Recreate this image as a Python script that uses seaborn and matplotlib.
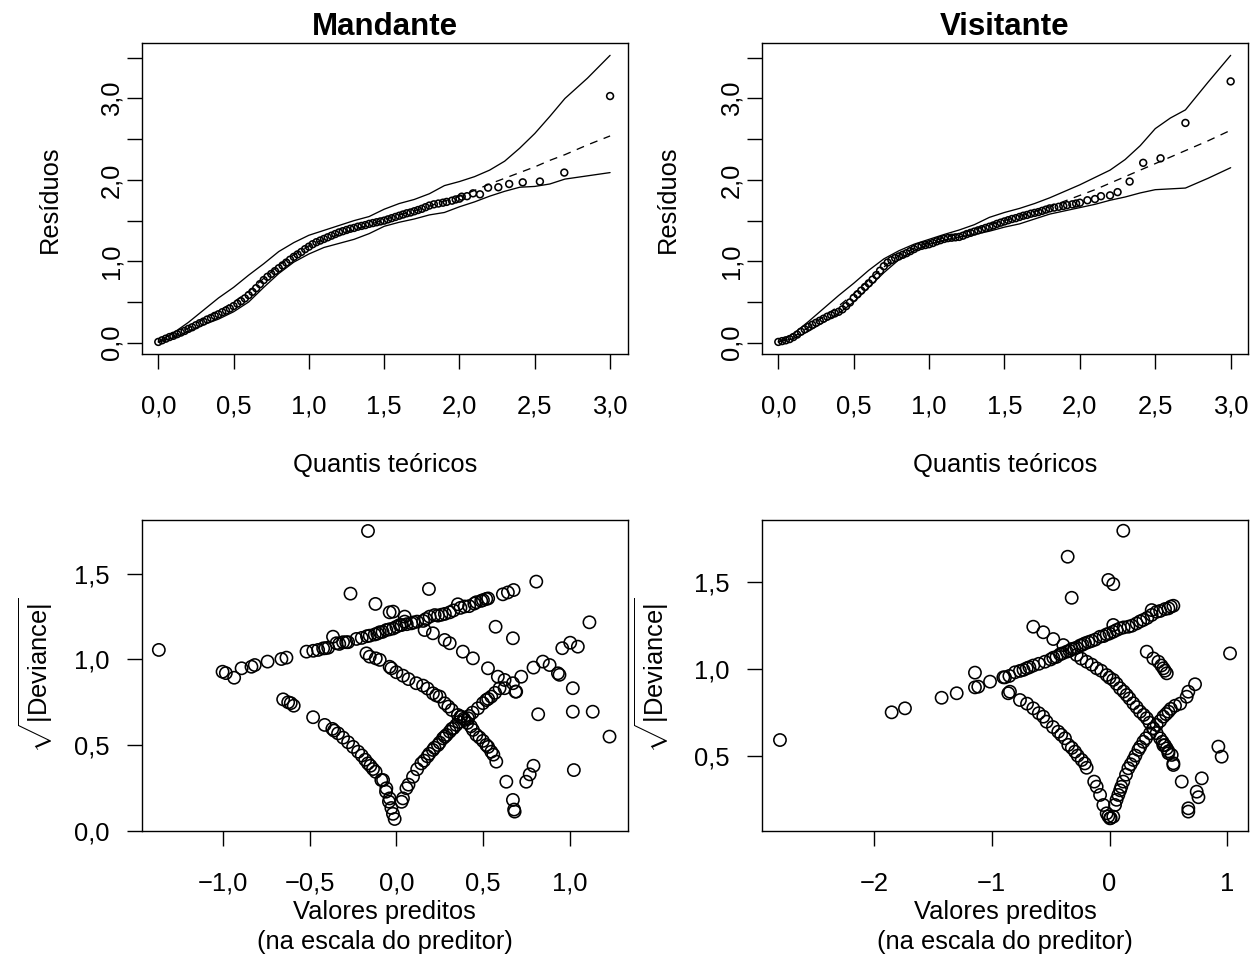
import matplotlib
matplotlib.use("Agg")
import matplotlib.pyplot as plt
import numpy as np
import pandas as pd
import seaborn as sns

# ---------------- DATA ----------------
# Half-normal plot, Mandante: theoretical quantiles / sorted residuals
mand_band_q = [0.000, 0.025, 0.050, 0.075, 0.100, 0.125, 0.150, 0.175, 0.200, 0.225,
               0.250, 0.275, 0.300, 0.325, 0.350, 0.375, 0.400, 0.425, 0.450, 0.475,
               0.500, 0.525, 0.550, 0.575, 0.600, 0.625, 0.650, 0.675, 0.700, 0.725,
               0.750, 0.775, 0.800, 0.825, 0.850, 0.875, 0.900, 0.925, 0.950, 0.975,
               1.000, 1.025, 1.050, 1.075, 1.100, 1.125, 1.150, 1.175, 1.200, 1.225,
               1.250, 1.275, 1.300, 1.325, 1.350, 1.375, 1.400, 1.425, 1.450, 1.475,
               1.500, 1.525, 1.550, 1.575, 1.600, 1.625, 1.650, 1.675, 1.700, 1.725,
               1.750, 1.775, 1.800, 1.830, 1.860, 1.890, 1.915, 1.950, 1.975, 2.000]
mand_band_res = [0.010, 0.030, 0.050, 0.070, 0.085, 0.105, 0.125, 0.145, 0.170, 0.190,
                 0.215, 0.240, 0.260, 0.285, 0.305, 0.330, 0.350, 0.375, 0.395, 0.420,
                 0.450, 0.480, 0.510, 0.545, 0.585, 0.625, 0.670, 0.720, 0.770, 0.810,
                 0.845, 0.880, 0.915, 0.950, 0.985, 1.020, 1.055, 1.085, 1.115, 1.150,
                 1.180, 1.210, 1.235, 1.255, 1.275, 1.295, 1.315, 1.335, 1.355, 1.370,
                 1.385, 1.400, 1.410, 1.425, 1.435, 1.445, 1.460, 1.470, 1.480, 1.490,
                 1.500, 1.515, 1.530, 1.545, 1.560, 1.575, 1.590, 1.600, 1.615, 1.630,
                 1.645, 1.665, 1.685, 1.700, 1.710, 1.720, 1.730, 1.745, 1.760, 1.770]
mand_tail_q = [2.015, 2.050, 2.090, 2.136, 2.190, 2.258, 2.330, 2.420, 2.534, 2.696, 3.000]
mand_tail_res = [1.794, 1.800, 1.835, 1.823, 1.905, 1.910, 1.950, 1.970, 1.980, 2.090, 3.030]

env_q = [0.0, 0.1, 0.2, 0.3, 0.4, 0.5, 0.6, 0.7, 0.8, 0.9, 1.0, 1.1, 1.2, 1.3, 1.4,
         1.5, 1.6, 1.7, 1.8, 1.9, 2.0, 2.1, 2.2, 2.3, 2.4, 2.5, 2.6, 2.7, 2.85, 3.0]
mand_env_low = [0.01, 0.06, 0.14, 0.22, 0.29, 0.38, 0.50, 0.68, 0.85, 0.99, 1.09, 1.17,
                1.22, 1.27, 1.34, 1.43, 1.48, 1.52, 1.57, 1.60, 1.67, 1.73, 1.80, 1.86,
                1.91, 1.92, 1.95, 2.01, 2.05, 2.09]
mand_env_med = [0.01, 0.08, 0.18, 0.29, 0.39, 0.50, 0.63, 0.79, 0.95, 1.08, 1.19, 1.27,
                1.33, 1.39, 1.45, 1.51, 1.57, 1.62, 1.68, 1.74, 1.80, 1.87, 1.95, 2.02,
                2.09, 2.16, 2.24, 2.31, 2.43, 2.54]
mand_env_up = [0.01, 0.12, 0.25, 0.40, 0.55, 0.68, 0.83, 0.97, 1.12, 1.23, 1.32, 1.38,
               1.44, 1.50, 1.55, 1.64, 1.71, 1.76, 1.83, 1.93, 1.98, 2.04, 2.12, 2.23,
               2.39, 2.57, 2.78, 3.00, 3.25, 3.53]

# Half-normal plot, Visitante
vis_band_q = mand_band_q
vis_band_res = [0.010, 0.020, 0.030, 0.045, 0.070, 0.100, 0.135, 0.165, 0.195, 0.220,
                0.245, 0.270, 0.295, 0.320, 0.340, 0.360, 0.380, 0.410, 0.450, 0.495,
                0.550, 0.595, 0.640, 0.685, 0.730, 0.775, 0.830, 0.885, 0.940, 0.985,
                1.015, 1.040, 1.060, 1.080, 1.100, 1.125, 1.150, 1.175, 1.190, 1.200,
                1.210, 1.225, 1.245, 1.260, 1.275, 1.285, 1.290, 1.295, 1.300, 1.315,
                1.335, 1.350, 1.365, 1.380, 1.395, 1.410, 1.425, 1.440, 1.460, 1.475,
                1.490, 1.505, 1.520, 1.530, 1.545, 1.560, 1.570, 1.585, 1.595, 1.605,
                1.620, 1.635, 1.650, 1.660, 1.670, 1.680, 1.690, 1.700, 1.710, 1.720]
vis_tail_q = [2.050, 2.100, 2.140, 2.200, 2.250, 2.330, 2.420, 2.535, 2.700, 3.000]
vis_tail_res = [1.750, 1.765, 1.800, 1.810, 1.850, 1.980, 2.210, 2.265, 2.700, 3.210]

vis_env_low = [0.01, 0.05, 0.14, 0.25, 0.36, 0.50, 0.68, 0.86, 1.02, 1.13, 1.21, 1.26,
               1.30, 1.33, 1.37, 1.42, 1.46, 1.52, 1.58, 1.62, 1.66, 1.70, 1.75, 1.79,
               1.84, 1.88, 1.89, 1.90, 2.02, 2.15]
vis_env_med = [0.01, 0.07, 0.19, 0.32, 0.45, 0.60, 0.77, 0.93, 1.07, 1.16, 1.23, 1.29,
               1.34, 1.39, 1.45, 1.50, 1.55, 1.61, 1.67, 1.74, 1.81, 1.88, 1.96, 2.04,
               2.12, 2.20, 2.28, 2.36, 2.48, 2.61]
vis_env_up = [0.01, 0.11, 0.26, 0.42, 0.58, 0.73, 0.89, 1.03, 1.13, 1.21, 1.27, 1.33,
              1.385, 1.45, 1.54, 1.60, 1.65, 1.71, 1.78, 1.86, 1.94, 2.03, 2.12, 2.25,
              2.42, 2.63, 2.76, 2.86, 3.20, 3.53]

# sqrt|deviance| vs linear predictor, Mandante (predicted, sqrt|dev|)
mand_isolated = [(-1.372, 1.055), (-0.164, 1.748), (-0.265, 1.383), (-0.121, 1.323),
                 (-0.039, 1.274), (0.188, 1.410), (-0.019, 1.278)]
mand_goal0 = [(-1.004, 0.928), (-0.985, 0.920), (-0.937, 0.893), (-0.894, 0.948),
              (-0.837, 0.957), (-0.818, 0.967), (-0.744, 0.987), (-0.664, 1.002),
              (-0.635, 1.010), (-0.519, 1.045), (-0.480, 1.050), (-0.452, 1.055),
              (-0.423, 1.064), (-0.410, 1.065), (-0.394, 1.068), (-0.366, 1.132),
              (-0.346, 1.094), (-0.330, 1.090), (-0.308, 1.100), (-0.290, 1.100),
              (-0.279, 1.100), (-0.231, 1.119), (-0.200, 1.125), (-0.170, 1.135),
              (-0.154, 1.138), (-0.125, 1.145), (-0.110, 1.150), (-0.096, 1.158),
              (-0.080, 1.160), (-0.058, 1.171), (-0.040, 1.175), (-0.019, 1.180),
              (0.000, 1.190), (0.019, 1.200), (0.030, 1.200), (0.048, 1.220),
              (0.060, 1.205), (0.086, 1.210), (0.100, 1.215), (0.120, 1.220),
              (0.154, 1.224), (0.170, 1.235), (0.192, 1.249), (0.221, 1.258),
              (0.240, 1.255), (0.260, 1.260), (0.280, 1.265), (0.308, 1.274),
              (0.330, 1.285), (0.355, 1.321), (0.370, 1.300), (0.394, 1.308),
              (0.420, 1.310), (0.450, 1.325), (0.462, 1.333), (0.490, 1.341),
              (0.500, 1.345), (0.519, 1.352), (0.530, 1.355), (0.615, 1.379),
              (0.644, 1.390), (0.677, 1.404), (0.808, 1.453)]
mand_goal3 = [(0.048, 1.249), (0.163, 1.171), (0.211, 1.152), (0.279, 1.113),
              (0.308, 1.094), (0.384, 1.045), (0.442, 1.006), (0.529, 0.948),
              (0.586, 0.899), (0.625, 0.880), (0.673, 0.861), (0.692, 0.812),
              (0.573, 1.190), (0.673, 1.123)]
mand_goal2 = [(-0.173, 1.035), (-0.154, 1.016), (-0.119, 1.006), (-0.096, 0.997),
              (-0.039, 0.957), (-0.029, 0.948), (0.000, 0.925), (0.038, 0.905),
              (0.070, 0.885), (0.115, 0.861), (0.154, 0.847), (0.180, 0.830),
              (0.211, 0.802), (0.230, 0.790), (0.250, 0.783), (0.279, 0.744),
              (0.300, 0.725), (0.320, 0.705), (0.355, 0.676), (0.370, 0.665),
              (0.394, 0.647), (0.410, 0.630), (0.430, 0.610), (0.442, 0.589),
              (0.462, 0.560), (0.480, 0.545), (0.500, 0.525), (0.519, 0.501),
              (0.530, 0.490), (0.548, 0.462), (0.560, 0.445), (0.577, 0.404),
              (0.635, 0.287), (0.673, 0.181), (0.680, 0.125), (0.683, 0.113)]
mand_goal1 = [(-0.654, 0.767), (-0.625, 0.750), (-0.610, 0.745), (-0.593, 0.730),
              (-0.481, 0.663), (-0.414, 0.618), (-0.370, 0.595), (-0.360, 0.585),
              (-0.337, 0.569), (-0.308, 0.544), (-0.279, 0.517), (-0.250, 0.490),
              (-0.221, 0.462), (-0.200, 0.440), (-0.180, 0.415), (-0.164, 0.394),
              (-0.150, 0.380), (-0.135, 0.361), (-0.120, 0.345), (-0.087, 0.297),
              (-0.077, 0.297), (-0.060, 0.229), (-0.058, 0.249), (-0.043, 0.171),
              (-0.039, 0.190), (-0.029, 0.134), (-0.020, 0.100), (-0.010, 0.070),
              (0.030, 0.170), (0.038, 0.190), (0.058, 0.249), (0.070, 0.270),
              (0.096, 0.316), (0.120, 0.360), (0.144, 0.394), (0.160, 0.410),
              (0.180, 0.435), (0.190, 0.450), (0.211, 0.472), (0.220, 0.485),
              (0.240, 0.501), (0.250, 0.515), (0.269, 0.540), (0.280, 0.550),
              (0.290, 0.560), (0.308, 0.579), (0.320, 0.595), (0.330, 0.600),
              (0.346, 0.618), (0.360, 0.635), (0.375, 0.666), (0.390, 0.655),
              (0.413, 0.657), (0.420, 0.670), (0.440, 0.690), (0.471, 0.715),
              (0.500, 0.745), (0.519, 0.763), (0.530, 0.770), (0.548, 0.783),
              (0.570, 0.805), (0.596, 0.832), (0.625, 0.832), (0.688, 0.812),
              (0.721, 0.899), (0.792, 0.952), (0.846, 0.987), (0.885, 0.967),
              (0.933, 0.919), (0.942, 0.910)]
mand_right = [(0.958, 1.065), (1.004, 1.097), (1.048, 1.074), (1.115, 1.216),
              (1.019, 0.832), (1.019, 0.695), (1.134, 0.695), (1.231, 0.550),
              (1.025, 0.355), (0.819, 0.680), (0.792, 0.380), (0.770, 0.330),
              (0.750, 0.287)]

# sqrt|deviance| vs linear predictor, Visitante
vis_isolated = [(-2.797, 0.590), (-1.849, 0.750), (-1.736, 0.773), (-1.425, 0.834),
                (-1.297, 0.860), (-1.142, 0.979), (-1.142, 0.894), (-1.114, 0.898),
                (-1.014, 0.927), (-0.901, 0.952), (0.117, 1.798), (-0.355, 1.648),
                (-0.010, 1.514), (0.032, 1.490), (-0.321, 1.411), (1.023, 1.090)]
vis_goal3 = [(-0.647, 1.244), (-0.562, 1.212), (-0.477, 1.173), (-0.392, 1.138),
             (0.316, 1.100), (0.372, 1.061), (0.415, 1.042), (0.440, 1.020),
             (0.457, 1.004), (0.470, 0.990), (0.486, 0.975)]
vis_goal0 = [(-0.887, 0.952), (-0.850, 0.960), (-0.802, 0.981), (-0.760, 0.989),
             (-0.730, 0.995), (-0.703, 1.004), (-0.680, 1.010), (-0.647, 1.020),
             (-0.600, 1.030), (-0.548, 1.042), (-0.500, 1.055), (-0.477, 1.065),
             (-0.450, 1.070), (-0.420, 1.085), (-0.400, 1.090), (-0.363, 1.100),
             (-0.340, 1.105), (-0.321, 1.115), (-0.300, 1.118), (-0.279, 1.123),
             (-0.250, 1.135), (-0.230, 1.140), (-0.208, 1.148), (-0.180, 1.155),
             (-0.151, 1.162), (-0.120, 1.170), (-0.081, 1.186), (-0.050, 1.190),
             (-0.024, 1.200), (0.000, 1.205), (0.032, 1.215), (0.060, 1.225),
             (0.089, 1.234), (0.120, 1.240), (0.160, 1.244), (0.190, 1.250),
             (0.230, 1.263), (0.260, 1.275), (0.287, 1.283), (0.320, 1.295),
             (0.358, 1.312), (0.400, 1.330), (0.430, 1.335), (0.471, 1.346),
             (0.500, 1.350), (0.520, 1.360), (0.542, 1.365), (0.032, 1.254),
             (0.358, 1.340)]
vis_goal2 = [(-0.279, 1.081), (-0.240, 1.060), (-0.194, 1.042), (-0.150, 1.025),
             (-0.109, 1.004), (-0.070, 0.990), (-0.024, 0.965), (0.000, 0.950),
             (0.032, 0.937), (0.060, 0.915), (0.089, 0.889), (0.120, 0.870),
             (0.146, 0.850), (0.170, 0.830), (0.202, 0.802), (0.230, 0.780),
             (0.259, 0.754), (0.290, 0.735), (0.316, 0.716), (0.340, 0.690),
             (0.372, 0.658), (0.400, 0.630), (0.429, 0.600), (0.450, 0.580),
             (0.457, 0.560), (0.470, 0.560), (0.486, 0.542), (0.500, 0.525),
             (0.500, 0.514), (0.528, 0.504), (0.542, 0.456), (0.542, 0.446)]
vis_goal1 = [(-0.859, 0.860), (-0.845, 0.869), (-0.760, 0.821), (-0.700, 0.800),
             (-0.647, 0.773), (-0.600, 0.745), (-0.562, 0.725), (-0.534, 0.696),
             (-0.480, 0.665), (-0.435, 0.638), (-0.410, 0.620), (-0.378, 0.600),
             (-0.350, 0.562), (-0.320, 0.545), (-0.293, 0.523), (-0.270, 0.500),
             (-0.236, 0.475), (-0.210, 0.455), (-0.194, 0.430), (-0.130, 0.350),
             (-0.109, 0.321), (-0.080, 0.273), (-0.052, 0.215), (-0.024, 0.167),
             (-0.010, 0.150), (0.004, 0.138), (0.010, 0.140), (0.032, 0.148),
             (0.047, 0.215), (0.060, 0.245), (0.075, 0.273), (0.090, 0.300),
             (0.100, 0.320), (0.117, 0.350), (0.140, 0.390), (0.160, 0.427),
             (0.180, 0.450), (0.202, 0.475), (0.220, 0.500), (0.245, 0.533),
             (0.260, 0.550), (0.287, 0.580), (0.310, 0.600), (0.344, 0.629),
             (0.370, 0.655), (0.400, 0.677), (0.430, 0.700), (0.457, 0.725),
             (0.480, 0.740), (0.500, 0.754), (0.520, 0.770), (0.556, 0.788),
             (0.600, 0.800), (0.655, 0.840), (0.669, 0.869), (0.726, 0.912)]
vis_right = [(0.613, 0.350), (0.783, 0.369), (0.740, 0.292), (0.755, 0.260),
             (0.669, 0.196), (0.669, 0.177), (0.924, 0.552), (0.952, 0.494)]

hn_xticks = [0.0, 0.5, 1.0, 1.5, 2.0, 2.5, 3.0]
hn_xticklabels = ["0,0", "0,5", "1,0", "1,5", "2,0", "2,5", "3,0"]
hn_yticks = [0.0, 0.5, 1.0, 1.5, 2.0, 2.5, 3.0, 3.5]
hn_yticklabels = ["0,0", "", "1,0", "", "2,0", "", "3,0", ""]
mand_dev_xticks = [-1.0, -0.5, 0.0, 0.5, 1.0]
mand_dev_xticklabels = ["\u22121,0", "\u22120,5", "0,0", "0,5", "1,0"]
mand_dev_yticks = [0.0, 0.5, 1.0, 1.5]
mand_dev_yticklabels = ["0,0", "0,5", "1,0", "1,5"]
vis_dev_xticks = [-2, -1, 0, 1]
vis_dev_xticklabels = ["\u22122", "\u22121", "0", "1"]
vis_dev_yticks = [0.5, 1.0, 1.5]
vis_dev_yticklabels = ["0,5", "1,0", "1,5"]

titles = ["Mandante", "Visitante"]

# ---------------- STYLE ----------------
sns.set_style("ticks")
plt.rcParams["font.family"] = ["Liberation Sans", "DejaVu Sans"]
plt.rcParams["mathtext.fontset"] = "custom"
plt.rcParams["mathtext.rm"] = "Liberation Sans"
plt.rcParams["mathtext.it"] = "Liberation Sans:italic"
plt.rcParams["mathtext.bf"] = "Liberation Sans:bold"
plt.rcParams["text.color"] = "black"
plt.rcParams["axes.labelcolor"] = "black"
plt.rcParams["xtick.color"] = "black"
plt.rcParams["ytick.color"] = "black"
plt.rcParams["axes.edgecolor"] = "black"

W, H = 1259, 973
FS = 18.4
fig = plt.figure(figsize=(W / 100, H / 100), dpi=100)
fig.patch.set_facecolor("white")


def box(l, t, r, b):
    return [l / W, 1 - b / H, (r - l) / W, (b - t) / H]


def ftext(x, y, s, **kw):
    fig.text(x / W, 1 - y / H, s, ha="center", va="center", color="black", **kw)


def style_axes(ax):
    for sp in ax.spines.values():
        sp.set_visible(True)
        sp.set_color("black")
        sp.set_linewidth(1.0)
    ax.set_facecolor("white")
    ax.tick_params(direction="out", length=10.8, width=1.0, color="black",
                   labelsize=FS, labelcolor="black")
    ax.set_xlabel("")
    ax.set_ylabel("")


def hn_panel(ax, bq, br, tq, tr, low, med, up):
    sns.lineplot(x=env_q, y=low, ax=ax, color="black", lw=0.95, sort=False,
                 estimator=None, zorder=2)
    sns.lineplot(x=env_q, y=up, ax=ax, color="black", lw=0.95, sort=False,
                 estimator=None, zorder=2)
    sns.lineplot(x=env_q, y=med, ax=ax, color="black", lw=0.95, sort=False,
                 estimator=None, linestyle=(0, (6, 5)), zorder=2)
    pts = pd.DataFrame({"q": list(bq) + list(tq), "r": list(br) + list(tr)})
    sns.scatterplot(data=pts, x="q", y="r", ax=ax, marker="o", s=24,
                    facecolors="none", edgecolors="black", linewidths=1.15,
                    zorder=3)
    ax.set_xlim(-0.110, 3.117)
    ax.set_ylim(-0.142, 3.678)
    ax.set_xticks(hn_xticks)
    ax.set_xticklabels(hn_xticklabels)
    ax.set_yticks(hn_yticks)
    ax.set_yticklabels(hn_yticklabels, rotation=90, va="center")
    style_axes(ax)
    ax.tick_params(axis="x", pad=18.0)
    ax.tick_params(axis="y", pad=2.5)


def dev_panel(ax, groups, xlim, ylim, xt, xtl, yt, ytl):
    xs, ys = [], []
    for g in groups:
        for (a, b) in g:
            xs.append(a)
            ys.append(b)
    df = pd.DataFrame({"pred": xs, "dev": ys})
    sns.scatterplot(data=df, x="pred", y="dev", ax=ax, marker="o", s=78,
                    facecolors="none", edgecolors="black", linewidths=1.15)
    ax.set_xlim(*xlim)
    ax.set_ylim(*ylim)
    ax.set_xticks(xt)
    ax.set_xticklabels(xtl)
    ax.set_yticks(yt)
    ax.set_yticklabels(ytl)
    style_axes(ax)
    ax.tick_params(axis="x", pad=18.5)
    ax.tick_params(axis="y", pad=12.3)


ax1 = fig.add_axes(box(141.7, 43.3, 627.7, 354.3))
ax2 = fig.add_axes(box(761.7, 43.3, 1248.3, 354.3))
ax3 = fig.add_axes(box(141.7, 520, 627.7, 831))
ax4 = fig.add_axes(box(761.7, 520, 1248.3, 831))

hn_panel(ax1, mand_band_q, mand_band_res, mand_tail_q, mand_tail_res,
         mand_env_low, mand_env_med, mand_env_up)
hn_panel(ax2, vis_band_q, vis_band_res, vis_tail_q, vis_tail_res,
         vis_env_low, vis_env_med, vis_env_up)
dev_panel(ax3, [mand_isolated, mand_goal0, mand_goal3, mand_goal2, mand_goal1, mand_right],
          (-1.471, 1.336), (0.0, 1.812),
          mand_dev_xticks, mand_dev_xticklabels, mand_dev_yticks, mand_dev_yticklabels)
dev_panel(ax4, [vis_isolated, vis_goal3, vis_goal0, vis_goal2, vis_goal1, vis_right],
          (-2.952, 1.178), (0.065, 1.860),
          vis_dev_xticks, vis_dev_xticklabels, vis_dev_yticks, vis_dev_yticklabels)

# titles and axis labels
for cx, t in zip([384.7, 1005.0], titles):
    ftext(cx, 27, t, fontsize=22.5, fontweight="bold")
    ftext(cx, 465, "Quantis teóricos", fontsize=FS)
    ftext(cx, 912.5, "Valores preditos", fontsize=FS)
    ftext(cx, 941.7, "(na escala do preditor)", fontsize=FS)
for lx in [50, 668]:
    ftext(lx, 198.8, "Resíduos", fontsize=FS, rotation=90)
for lx in [36, 652]:
    ftext(lx, 675.5, r"$\sqrt{|\mathrm{Deviance}|}$", fontsize=FS, rotation=90)

fig.savefig("out.png", dpi=100, facecolor="white")
